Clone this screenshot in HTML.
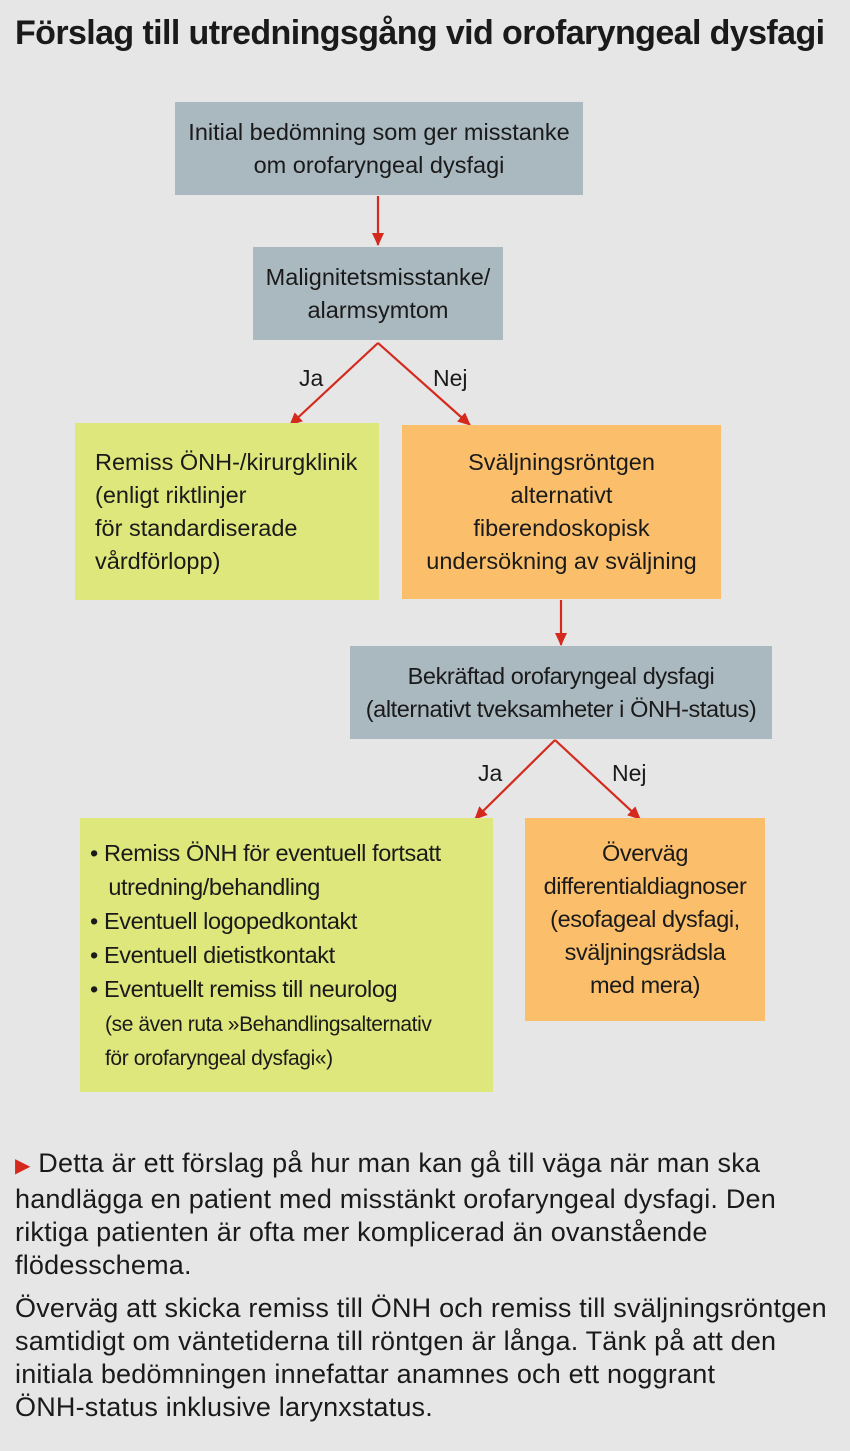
<!DOCTYPE html>
<html><head><meta charset="utf-8"><style>
body{margin:0;width:850px;height:1451px;background:#e6e6e6;font-family:"Liberation Sans",sans-serif;color:#1a1a1a;position:relative;overflow:hidden}
.t{position:absolute;left:15px;top:14px;font-size:34px;font-weight:bold;letter-spacing:-0.6px;white-space:nowrap}
.b{position:absolute;box-sizing:border-box;font-size:23.5px;line-height:33px;display:flex;flex-direction:column;justify-content:center;text-align:center;letter-spacing:0;white-space:nowrap}
.g{background:#aab8bf}.gr{background:#dde77b}.o{background:#fbbf6c}
.l{position:absolute;font-size:23px}
.p{position:absolute;left:15px;width:840px;font-size:27px;line-height:33px;letter-spacing:0.2px;white-space:nowrap}
</style></head><body>
<div class="t">Förslag till utredningsgång vid orofaryngeal dysfagi</div>
<svg style="position:absolute;left:0;top:0" width="850" height="1100">
<defs><marker id="a" markerWidth="14" markerHeight="14" refX="12" refY="7" orient="auto" markerUnits="userSpaceOnUse"><path d="M0,1 L13,7 L0,13 z" fill="#d42a1e"/></marker></defs>
<g stroke="#d42a1e" stroke-width="2.2" fill="none">
<line x1="378" y1="196" x2="378" y2="245" marker-end="url(#a)"/>
<line x1="378" y1="343" x2="290" y2="425" marker-end="url(#a)"/>
<line x1="378" y1="343" x2="470" y2="425" marker-end="url(#a)"/>
<line x1="561" y1="600" x2="561" y2="645" marker-end="url(#a)"/>
<line x1="555" y1="740" x2="475" y2="819" marker-end="url(#a)"/>
<line x1="555" y1="740" x2="640" y2="819" marker-end="url(#a)"/>
</g></svg>
<div class="b g" style="left:175px;top:102px;width:408px;height:93px">Initial bedömning som ger misstanke<br>om orofaryngeal dysfagi</div>
<div class="b g" style="left:253px;top:247px;width:250px;height:93px">Malignitetsmisstanke/<br>alarmsymtom</div>
<div class="l" style="left:299px;top:365px">Ja</div>
<div class="l" style="left:433px;top:365px">Nej</div>
<div class="b gr" style="left:75px;top:423px;width:304px;height:177px;text-align:left;padding-left:20px">Remiss ÖNH-/kirurgklinik<br>(enligt riktlinjer<br>för standardiserade<br>vårdförlopp)</div>
<div class="b o" style="left:402px;top:425px;width:319px;height:174px">Sväljningsröntgen<br>alternativt<br>fiberendoskopisk<br>undersökning av sväljning</div>
<div class="b g" style="left:350px;top:646px;width:422px;height:93px;letter-spacing:-0.4px">Bekräftad orofaryngeal dysfagi<br>(alternativt tveksamheter i ÖNH-status)</div>
<div class="l" style="left:478px;top:760px">Ja</div>
<div class="l" style="left:612px;top:760px">Nej</div>
<div class="b gr" style="left:80px;top:818px;width:413px;height:274px;text-align:left;padding-left:10px;justify-content:flex-start;padding-top:18px;line-height:34px;letter-spacing:-0.4px">
<div>• Remiss ÖNH för eventuell fortsatt<br>&nbsp;&nbsp;&nbsp;utredning/behandling<br>• Eventuell logopedkontakt<br>• Eventuell dietistkontakt<br>• Eventuellt remiss till neurolog</div>
<div style="font-size:21px;line-height:34px;padding-left:15px;margin-top:2px">(se även ruta »Behandlingsalternativ<br>för orofaryngeal dysfagi«)</div></div>
<div class="b o" style="left:525px;top:818px;width:240px;height:203px;letter-spacing:-0.4px">Överväg<br>differentialdiagnoser<br>(esofageal dysfagi,<br>sväljningsrädsla<br>med mera)</div>
<div class="p" style="top:1147px"><span style="color:#d42a1e;font-size:20px">▶</span> Detta är ett förslag på hur man kan gå till väga när man ska<br>handlägga en patient med misstänkt orofaryngeal dysfagi. Den<br>riktiga patienten är ofta mer komplicerad än ovanstående<br>flödesschema.</div>
<div class="p" style="top:1292px">Överväg att skicka remiss till ÖNH och remiss till sväljningsröntgen<br>samtidigt om väntetiderna till röntgen är långa. Tänk på att den<br>initiala bedömningen innefattar anamnes och ett noggrant<br>ÖNH-status inklusive larynxstatus.</div>
</body></html>
